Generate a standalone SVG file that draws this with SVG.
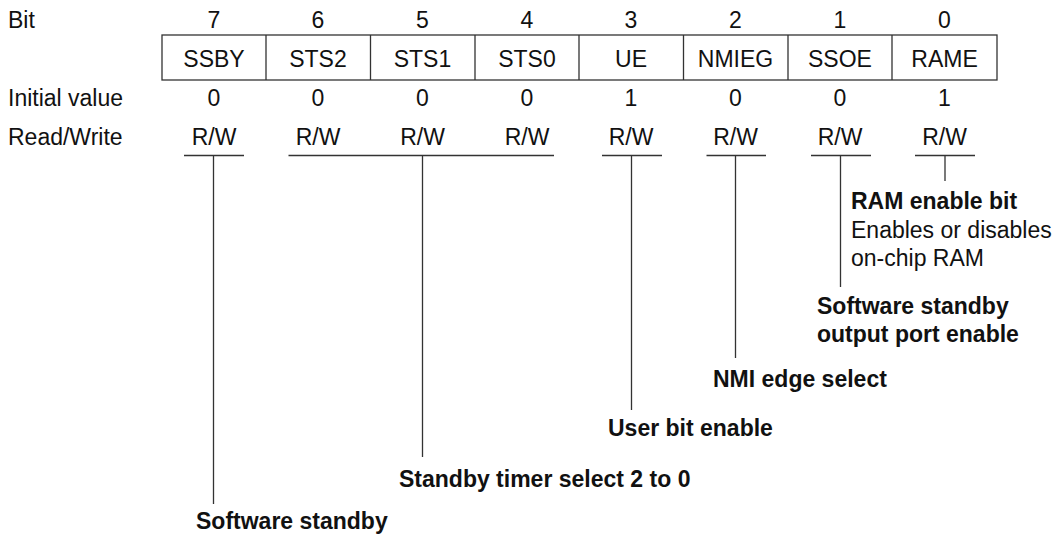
<svg xmlns="http://www.w3.org/2000/svg" width="1056" height="535" viewBox="0 0 1056 535">
<style>
text{font-family:"Liberation Sans",Arial,sans-serif;font-size:23px;fill:#111}
.c{text-anchor:middle}
.b{font-weight:bold}
.ln{stroke:#333;stroke-width:1.3;fill:none}
.bx{stroke:#333;stroke-width:1.3;fill:#fff}
</style>
<rect width="1056" height="535" fill="#fff"/>
<g id="row-labels">
<text x="8" y="28">Bit</text>
<text x="8" y="106">Initial value</text>
<text x="8" y="145">Read/Write</text>
</g>
<g id="register">
<rect class="bx" x="162" y="35" width="835" height="45"/>
<path class="ln" d="M266 35V80M370.5 35V80M475 35V80M579 35V80M683.5 35V80M788 35V80M892 35V80"/>
</g>
<g id="bit7"><text class="c" x="214" y="28">7</text><text class="c" x="214" y="67">SSBY</text><text class="c" x="214" y="106">0</text><text class="c" x="214" y="145">R/W</text></g>
<g id="bit6"><text class="c" x="318" y="28">6</text><text class="c" x="318" y="67">STS2</text><text class="c" x="318" y="106">0</text><text class="c" x="318" y="145">R/W</text></g>
<g id="bit5"><text class="c" x="422.5" y="28">5</text><text class="c" x="422.5" y="67">STS1</text><text class="c" x="422.5" y="106">0</text><text class="c" x="422.5" y="145">R/W</text></g>
<g id="bit4"><text class="c" x="527" y="28">4</text><text class="c" x="527" y="67">STS0</text><text class="c" x="527" y="106">0</text><text class="c" x="527" y="145">R/W</text></g>
<g id="bit3"><text class="c" x="631" y="28">3</text><text class="c" x="631" y="67">UE</text><text class="c" x="631" y="106">1</text><text class="c" x="631" y="145">R/W</text></g>
<g id="bit2"><text class="c" x="735.5" y="28">2</text><text class="c" x="735.5" y="67">NMIEG</text><text class="c" x="735.5" y="106">0</text><text class="c" x="735.5" y="145">R/W</text></g>
<g id="bit1"><text class="c" x="840" y="28">1</text><text class="c" x="840" y="67">SSOE</text><text class="c" x="840" y="106">0</text><text class="c" x="840" y="145">R/W</text></g>
<g id="bit0"><text class="c" x="944.5" y="28">0</text><text class="c" x="944.5" y="67">RAME</text><text class="c" x="944.5" y="106">1</text><text class="c" x="944.5" y="145">R/W</text></g>
<g id="connectors">
<path class="ln" d="M184 155.5H244M213.5 155.5V504"/>
<path class="ln" d="M288.5 155.5H554M422.5 155.5V457"/>
<path class="ln" d="M602 155.5H662M631.5 155.5V410"/>
<path class="ln" d="M706.5 155.5H766M735.5 155.5V358"/>
<path class="ln" d="M811 155.5H871M840.5 155.5V287"/>
<path class="ln" d="M915 155.5H975M945 155.5V181"/>
</g>
<g id="desc-rame">
<text class="b" x="851" y="209">RAM enable bit</text>
<text x="851" y="238">Enables or disables</text>
<text x="851" y="266">on-chip RAM</text>
</g>
<g id="desc-ssoe">
<text class="b" x="817" y="314">Software standby</text>
<text class="b" x="817" y="342">output port enable</text>
</g>
<g id="desc-nmieg"><text class="b" x="713" y="387">NMI edge select</text></g>
<g id="desc-ue"><text class="b" x="608" y="436">User bit enable</text></g>
<g id="desc-sts"><text class="b" x="399" y="487">Standby timer select 2 to 0</text></g>
<g id="desc-ssby"><text class="b" x="196" y="529">Software standby</text></g>
</svg>
